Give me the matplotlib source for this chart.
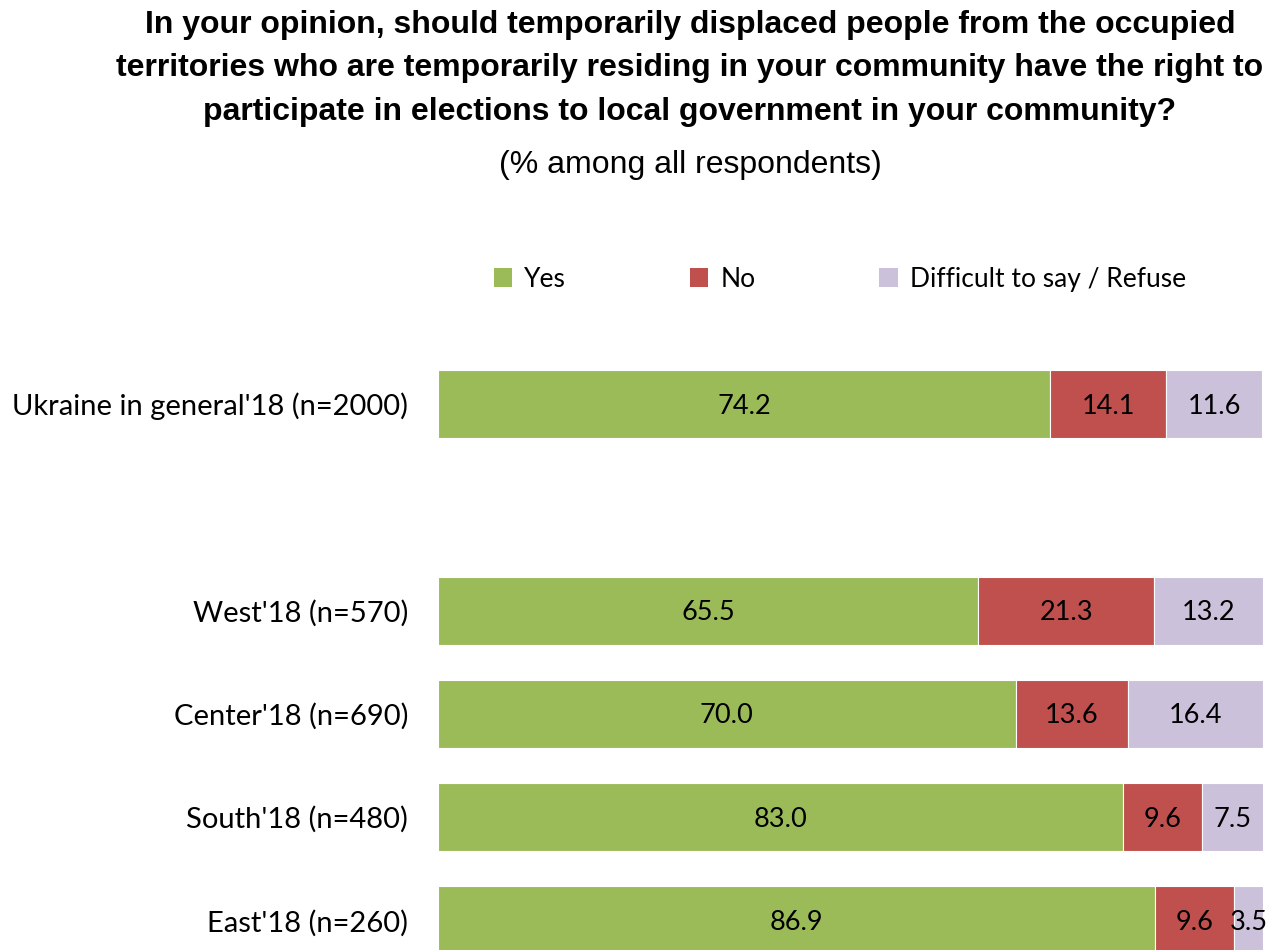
import matplotlib.pyplot as plt
from matplotlib.patches import Patch

# Survey data (% among all respondents)
categories = ["Ukraine in general'18 (n=2000)", "", "West'18 (n=570)",
              "Center'18 (n=690)", "South'18 (n=480)", "East'18 (n=260)"]
yes = [74.2, None, 65.5, 70.0, 83.0, 86.9]
no = [14.1, None, 21.3, 13.6, 9.6, 9.6]
hard = [11.6, None, 13.2, 16.4, 7.5, 3.5]
series_names = ["Yes", "No", "Difficult to say / Refuse"]
colors = ["#9BBB59", "#C0504D", "#CCC1DA"]

label_font = "Lato"

fig = plt.figure(figsize=(12.79, 9.5), dpi=100)
ax = fig.add_axes([438 / 1279, 0.0, (1263 - 438) / 1279, (950 - 352.4) / 950])

for i, cat in enumerate(categories):
    if yes[i] is None:
        continue
    left = 0
    for vals, col in zip([yes, no, hard], colors):
        v = vals[i]
        ax.barh(i, v, left=left, height=0.66, color=col, edgecolor="white", linewidth=0.8)
        ax.text(left + v / 2, i + 0.02, f"{v:.1f}", ha="center", va="center",
                fontsize=19.5, family=label_font, color="black")
        left += v

ax.set_xlim(0, 100)
ax.set_ylim(5.286, -0.5)
ax.set_yticks(range(len(categories)))
ax.set_yticklabels(categories, fontsize=21, family=label_font)
ax.tick_params(axis="y", length=0, pad=21.5)
ax.set_xticks([])
for s in ax.spines.values():
    s.set_visible(False)

# title and subtitle
fig.text(0.5395, 0.99, "In your opinion, should temporarily displaced people from the occupied\n"
         "territories who are temporarily residing in your community have the right to\n"
         "participate in elections to local government in your community?",
         ha="center", va="top", fontsize=23, fontweight="bold",
         family="Liberation Sans", linespacing=1.6)
fig.text(0.5395, 0.826, "(% among all respondents)", ha="center", va="center",
         fontsize=23, family="Liberation Sans")

handles = [Patch(facecolor=c, edgecolor="none") for c in colors]
fig.legend(handles, series_names, loc="center", bbox_to_anchor=(0.6565, 0.706),
           ncol=3, frameon=False, handlelength=0.7, handleheight=0.7,
           handletextpad=0.45, columnspacing=4.7, prop={"family": label_font, "size": 19})

fig.savefig("out.png", dpi=100)
